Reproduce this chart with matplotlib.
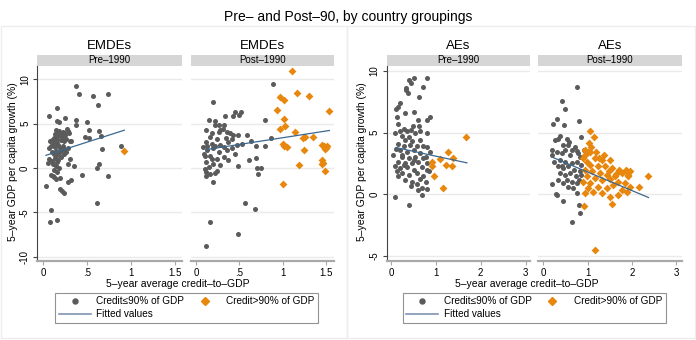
import numpy as np
import matplotlib.pyplot as plt
from matplotlib.lines import Line2D
from matplotlib.patches import Rectangle

plt.rcParams['font.family'] = ['Liberation Sans', 'DejaVu Sans']

# ---- data ----
# EMDEs, pre-1990
emde_pre_lo_x = [0.37, 0.41, 0.56, 0.73, 0.62, 0.15, 0.065, 0.25, 0.37, 0.50, 0.155, 0.18, 0.37, 0.52,
                 0.63, 0.66, 0.47, 0.52, 0.32, 0.88, 0.67, 0.30, 0.28, 0.35, 0.63, 0.61, 0.44, 0.74,
                 0.31, 0.28, 0.035, 0.19, 0.21, 0.24, 0.61, 0.09, 0.075, 0.16,
                 0.14, 0.16, 0.18, 0.20, 0.22, 0.24, 0.27, 0.28, 0.13, 0.15, 0.17, 0.19, 0.21, 0.25,
                 0.29, 0.08, 0.10, 0.12, 0.14, 0.16, 0.20, 0.23, 0.26, 0.30, 0.06, 0.09, 0.11, 0.13,
                 0.15, 0.17, 0.19, 0.22, 0.24, 0.28, 0.10, 0.12, 0.14, 0.16, 0.18, 0.20, 0.23, 0.26,
                 0.07, 0.10, 0.13, 0.15, 0.17, 0.20, 0.05, 0.11, 0.14, 0.18, 0.12, 0.16, 0.09, 0.12,
                 0.14, 0.11, 0.19]
emde_pre_lo_y = [9.3, 8.3, 8.1, 8.3, 7.1, 6.8, 5.9, 5.6, 5.45, 5.2, 5.3, 5.2, 4.8, 4.25,
                 4.2, 3.6, 3.55, 3.4, 3.1, 2.5, 2.1, 1.0, 0.4, 0.2, 0.5, 0.0, -0.8, -0.95,
                 -1.3, -1.6, -2.05, -2.4, -2.6, -2.8, -3.9, -4.7, -6.1, -5.9,
                 4.3, 4.1, 4.2, 4.0, 4.1, 3.9, 4.4, 4.2, 3.8, 3.6, 3.9, 3.7, 3.5, 3.7,
                 3.9, 3.0, 3.2, 3.4, 3.1, 3.3, 3.2, 3.0, 3.3, 3.1, 2.2, 2.5, 2.7, 2.4,
                 2.8, 2.6, 2.3, 2.5, 2.1, 2.2, 1.8, 1.6, 1.9, 1.5, 1.7, 1.9, 1.6, 1.8,
                 1.0, 0.8, 1.1, 0.7, 0.9, 1.2, 0.6, 0.4, 0.2, 0.0, -0.2, -0.4, -0.8, -1.0,
                 -1.2, -0.9, -1.1]
emde_pre_hi_x = [0.92]
emde_pre_hi_y = [1.9]
emde_pre_fit_x = [0.03, 0.92]
emde_pre_fit_y = [1.43, 4.26]

# EMDEs, post-1990
emde_post_lo_x = [0.89, 0.19, 0.45, 0.52, 0.50, 0.80, 0.86, 0.80, 0.69, 0.64, 0.61, 0.69, 0.70, 0.75,
                  0.72, 0.49, 0.19, 0.56, 0.68, 0.16, 0.48, 0.12,
                  0.15, 0.22, 0.33, 0.43, 0.22, 0.27, 0.32, 0.11, 0.28, 0.31, 0.39, 0.49, 0.59, 0.16,
                  0.24, 0.34, 0.42, 0.12, 0.18, 0.28, 0.37, 0.47, 0.53, 0.13, 0.20, 0.26, 0.36, 0.45,
                  0.10, 0.16, 0.24, 0.32, 0.12, 0.20, 0.28, 0.10, 0.15, 0.24, 0.12, 0.12, 0.16, 0.22,
                  0.18, 0.26, 0.36, 0.13, 0.22, 0.32, 0.41, 0.08, 0.09, 0.18, 0.37, 0.43]
emde_post_lo_y = [9.5, 7.4, 6.3, 6.3, 6.0, 5.4, 3.4, 2.45, 2.45, 3.1, 0.87, 1.1, 0.0, 0.0,
                  -0.7, 0.2, -1.6, -3.9, -4.6, -6.1, -7.4, -8.8,
                  5.4, 5.3, 5.9, 5.85, 4.8, 4.9, 4.9, 4.3, 4.3, 4.4, 3.9, 3.7, 3.7, 3.5,
                  3.3, 3.4, 3.3, 2.9, 2.75, 2.55, 2.9, 2.65, 2.7, 2.0, 2.2, 1.8, 2.0, 1.6,
                  1.4, 1.3, 1.05, 1.25, 0.7, 0.5, 0.3, -0.1, 0.1, -0.3, -0.45, -0.85, -0.7, -0.55,
                  3.9, 4.1, 4.1, 2.45, 2.45, 2.4, 2.3, 2.4, 1.6, 1.05, 0.87, 3.7]
emde_post_hi_x = [1.11, 1.17, 0.97, 1.01, 1.30, 1.54, 0.93, 1.01, 0.97, 1.03, 1.14, 1.24, 1.26, 1.35,
                  1.00, 1.02, 1.05, 1.25, 1.46, 1.48, 1.51, 1.49, 1.50, 1.46, 1.47, 1.46, 1.19, 1.49,
                  1.00]
emde_post_hi_y = [10.9, 8.5, 8.0, 7.7, 8.1, 6.4, 6.5, 5.5, 4.4, 4.7, 4.1, 3.4, 3.5, 3.5,
                  2.75, 2.5, 2.4, 2.0, 2.6, 2.45, 2.5, 2.15, 2.3, 0.95, 0.6, 0.5, 0.3, -0.3,
                  -1.85]
emde_post_fit_x = [0.12, 1.54]
emde_post_fit_y = [2.08, 4.23]

# AEs, pre-1990
ae_pre_lo_x = [0.52, 0.39, 0.81, 0.45, 0.34, 0.32, 0.37, 0.72, 0.63, 0.20, 0.16, 0.11, 0.31, 0.51,
               0.87, 0.80, 0.60, 0.63, 0.49, 0.16, 0.28, 0.35, 0.20, 0.09, 0.44, 0.65, 0.81, 0.54,
               0.24, 0.39, 0.31, 0.46, 0.16, 0.28, 0.43, 0.57, 0.72, 0.81, 0.11, 0.20, 0.35, 0.50,
               0.65, 0.87, 0.05, 0.24, 0.39, 0.54, 0.72, 0.16, 0.31, 0.46, 0.61, 0.80, 0.09, 0.20,
               0.35, 0.50, 0.69, 0.81, 0.24, 0.39, 0.57, 0.72, 0.16, 0.31, 0.46, 0.65, 0.78, 0.44,
               0.57, 0.69, 0.80, 0.61, 0.09, 0.69, 0.39, 0.13, 0.28, 0.51, 0.78, 0.84, 0.24, 0.65,
               0.13]
ae_pre_lo_y = [9.4, 9.3, 9.4, 9.0, 8.6, 8.45, 8.2, 8.7, 7.9, 7.4, 7.1, 6.9, 6.6, 6.7,
               6.3, 6.0, 6.0, 5.5, 5.5, 5.7, 5.3, 5.1, 5.15, 4.95, 5.2, 5.15, 5.0, 4.95,
               4.7, 4.6, 4.4, 4.3, 4.1, 3.9, 4.0, 3.9, 3.9, 3.8, 3.7, 3.6, 3.45, 3.6,
               3.3, 3.45, 3.2, 3.05, 2.9, 3.05, 2.9, 2.65, 2.55, 2.5, 2.65, 2.5, 2.25, 2.1,
               2.2, 2.0, 2.2, 1.95, 1.7, 1.55, 1.7, 1.45, 1.45, 1.15, 1.0, 1.2, 1.0, 0.7,
               0.85, 0.5, 0.4, 0.35, -0.2, -0.1, -0.85, 1.85, 2.4, 2.8, 3.05, 1.9, 3.2, 4.4,
               6.3]
ae_pre_hi_x = [1.68, 1.27, 1.38, 1.10, 0.91, 1.23, 1.36, 0.92, 0.95, 1.15]
ae_pre_hi_y = [4.6, 3.4, 2.9, 2.85, 2.65, 2.4, 2.3, 2.25, 1.5, 0.5]
ae_pre_fit_x = [0.11, 1.69]
ae_pre_fit_y = [3.78, 2.54]

# AEs, post-1990
ae_post_lo_x = [0.76, 0.42, 0.50, 0.30, 0.80, 0.21, 0.47, 0.38, 0.32, 0.27, 0.20, 0.28, 0.30, 0.45,
                0.80, 0.83, 0.65, 0.53, 0.58, 0.45, 0.55, 0.71, 0.84, 0.75, 0.20, 0.30, 0.41, 0.60,
                0.83, 0.25, 0.38, 0.49, 0.64, 0.75, 0.86, 0.32, 0.45, 0.56, 0.70, 0.83, 0.38, 0.49,
                0.60, 0.73, 0.86, 0.53, 0.64, 0.75, 0.56, 0.68, 0.75, 0.45, 0.34, 0.19, 0.49, 0.65,
                0.79, 0.92, 0.41, 0.80]
ae_post_lo_y = [8.7, 7.6, 6.9, 6.1, 5.9, 5.7, 5.65, 4.75, 4.5, 4.4, 0.86, 0.0, -0.1, -0.55,
                -0.86, -1.5, -2.3, 4.45, 4.25, 3.95, 3.95, 3.85, 4.6, 3.5, 3.6, 3.45, 3.3, 3.2,
                3.05, 2.65, 2.8, 2.65, 2.5, 2.65, 2.4, 2.25, 2.1, 2.25, 1.95, 1.85, 1.7, 1.55,
                1.7, 1.45, 1.55, 1.15, 1.0, 0.9, 0.6, 0.5, 0.1, 0.9, 1.15, 3.2, 3.6, 3.6,
                3.3, 3.6, 2.25, 1.15]
ae_post_hi_x = [1.05, 1.15, 1.03, 0.94, 1.00, 1.06, 1.18, 1.36, 1.26, 1.17, 1.50, 0.90, 0.98, 1.05,
                1.23, 1.39, 1.54, 0.94, 1.09, 1.28, 1.43, 1.62, 1.77, 1.95, 1.86, 1.92, 1.71, 0.98,
                1.17, 1.32, 1.50, 1.69, 1.84, 1.95, 0.90, 1.05, 1.24, 1.43, 1.58, 1.77, 1.88, 0.94,
                1.13, 1.32, 1.50, 1.69, 1.54, 0.92, 1.17, 2.15, 2.36, 1.63, 0.95, 1.08, 1.33, 1.47,
                1.92, 1.01]
ae_post_hi_y = [5.1, 4.65, 4.15, 3.55, 3.45, 3.4, 3.4, 3.15, 2.9, 2.9, 2.8, 2.9, 2.65, 2.4,
                2.25, 2.25, 2.1, 1.95, 1.85, 1.7, 1.55, 1.45, 1.7, 1.85, 2.0, 1.55, 1.95, 1.45,
                1.3, 1.15, 1.2, 1.0, 0.9, 0.6, 1.0, 0.9, 0.6, 0.5, 0.75, 0.35, 0.2, 0.1,
                0.2, 0.1, -0.2, -0.05, -0.8, -0.95, -4.55, 0.55, 1.5, 1.65, 3.2, 3.85, 2.8, 1.85,
                1.45, 0.5]
ae_post_fit_x = [0.20, 2.37]
ae_post_fit_y = [3.0, -0.27]

GRAY = '#5b5b5b'
ORANGE = '#e8870e'
BLUE = '#3b6890'

W, H = 696, 340
fig = plt.figure(figsize=(6.96, 3.40), dpi=100)
fig.patch.set_facecolor('white')

# faint subgraph frames
for x0, x1 in [(0.5, 347), (347, 695.5)]:
    fig.add_artist(Rectangle((x0 / W, 1 - 338 / H), (x1 - x0) / W, (338 - 26) / H,
                             transform=fig.transFigure, fill=False, ec='#ededed', lw=1))


def panel(x0, x1, lo_x, lo_y, hi_x, hi_y, fx, fy, xlim, ylim, xticks, xlabels,
          yticks, first, group, period):
    ax = fig.add_axes([x0 / W, 1 - 260.7 / H, (x1 - x0) / W, (260.7 - 66) / H])
    for yt in yticks:
        ax.axhline(yt, color='#eaeaea', lw=1, zorder=0)
    ax.scatter(lo_x, lo_y, s=13, color=GRAY, marker='o', lw=0, zorder=3)
    ax.scatter(hi_x, hi_y, s=16, color=ORANGE, marker='D', lw=0, zorder=3)
    ax.plot(fx, fy, color=BLUE, lw=0.9, zorder=4)
    ax.set_xlim(xlim)
    ax.set_ylim(ylim)
    ax.set_xticks(xticks)
    ax.set_xticklabels(xlabels, fontsize=7)
    for s in ['top', 'right']:
        ax.spines[s].set_visible(False)
    ax.spines['bottom'].set_color('#a8a8a8')
    ax.spines['bottom'].set_linewidth(1.6)
    ax.tick_params(axis='x', length=3, width=0.8, color='#a8a8a8', pad=2)
    if first:
        ax.set_yticks(yticks)
        ax.set_yticklabels([str(v) for v in yticks], fontsize=7, rotation=90, va='center')
        ax.spines['left'].set_color('#444444')
        ax.spines['left'].set_linewidth(0.8)
        ax.tick_params(axis='y', length=3, width=0.8, color='#444444', pad=2)
    else:
        ax.spines['left'].set_visible(False)
        ax.set_yticks([])
    # strip header and group title
    fig.add_artist(Rectangle((x0 / W, 1 - 65.5 / H), (x1 - x0) / W, 10.5 / H,
                             transform=fig.transFigure, color='#d6d6d6', lw=0))
    fig.text((x0 + x1) / 2 / W, 1 - 60.3 / H, period, ha='center', va='center', fontsize=7)
    fig.text((x0 + x1) / 2 / W, 1 - 46 / H, group, ha='center', va='center', fontsize=9.5)
    return ax


ylim_e = (-10.45, 11.5)
ylim_a = (-5.4, 10.4)
panel(37, 182, emde_pre_lo_x, emde_pre_lo_y, emde_pre_hi_x, emde_pre_hi_y,
      emde_pre_fit_x, emde_pre_fit_y, (-0.072, 1.576), ylim_e,
      [0, 0.5, 1, 1.5], ['0', '.5', '1', '1.5'], [-10, -5, 0, 5, 10], True, 'EMDEs', 'Pre\u20131990')
panel(190.7, 334, emde_post_lo_x, emde_post_lo_y, emde_post_hi_x, emde_post_hi_y,
      emde_post_fit_x, emde_post_fit_y, (-0.062, 1.593), ylim_e,
      [0, 0.5, 1, 1.5], ['0', '.5', '1', '1.5'], [-10, -5, 0, 5, 10], False, 'EMDEs', 'Post\u20131990')
panel(386.7, 530, ae_pre_lo_x, ae_pre_lo_y, ae_pre_hi_x, ae_pre_hi_y,
      ae_pre_fit_x, ae_pre_fit_y, (-0.1, 3.1), ylim_a,
      [0, 1, 2, 3], ['0', '1', '2', '3'], [-5, 0, 5, 10], True, 'AEs', 'Pre\u20131990')
panel(538, 681.7, ae_post_lo_x, ae_post_lo_y, ae_post_hi_x, ae_post_hi_y,
      ae_post_fit_x, ae_post_fit_y, (-0.12, 3.12), ylim_a,
      [0, 1, 2, 3], ['0', '1', '2', '3'], [-5, 0, 5, 10], False, 'AEs', 'Post\u20131990')

# titles and axis labels
fig.text(0.5, 1 - 17 / H, 'Pre\u2013 and Post\u201390, by country groupings', ha='center', va='center', fontsize=10)
for xc, yl in [(178, 13), (527, 362)]:
    fig.text(xc / W, 1 - 284 / H, '5\u2013year average credit\u2013to\u2013GDP', ha='center', va='center', fontsize=7.5)
    fig.text(yl / W, 1 - 162 / H, '5\u2013year GDP per capita growth (%)', ha='center', va='center',
             rotation=90, fontsize=7.5)

# legends
handles = [Line2D([], [], ls='', marker='o', ms=3.6, color=GRAY),
           Line2D([], [], color='#7f95b3', lw=1.2),
           Line2D([], [], ls='', marker='D', ms=3.6, color=ORANGE)]
labels = ['Credit\u226490% of GDP', 'Fitted values', 'Credit>90% of GDP']
for lx in [55, 402.7]:
    leg = fig.legend(handles, labels, ncol=2, fontsize=7.2, frameon=True, fancybox=False,
                     loc='upper left', bbox_to_anchor=(lx / W, 1 - 292.7 / H),
                     handlelength=3.2, handletextpad=0.6, columnspacing=0.4,
                     borderpad=0.35, labelspacing=0.3, borderaxespad=0)
    leg.get_frame().set_edgecolor('#777777')
    leg.get_frame().set_linewidth(0.8)

fig.savefig('out.png', dpi=100)
